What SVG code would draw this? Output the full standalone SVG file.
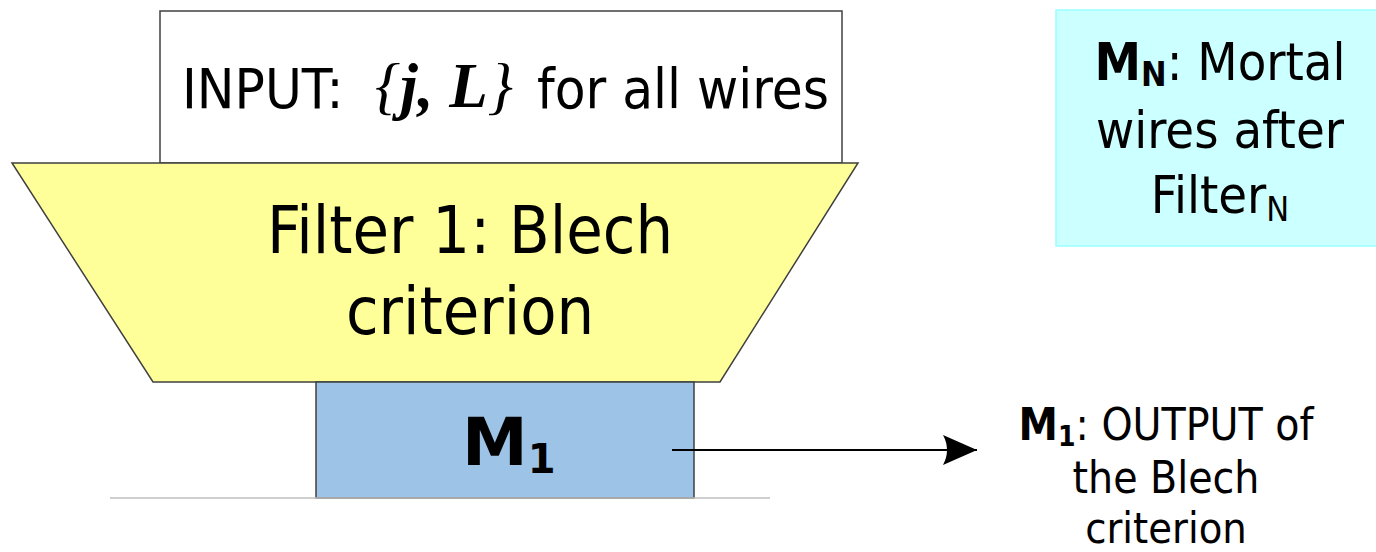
<svg xmlns="http://www.w3.org/2000/svg" width="1376" height="552" viewBox="0 0 1376 552">
  <defs>
    <marker id="arrowhead" markerWidth="36" markerHeight="32" refX="34" refY="16" orient="auto" markerUnits="userSpaceOnUse">
      <path d="M0,1 L34,16 L0,31 Q8,16 0,1 Z" fill="#000"/>
    </marker>
    <style>
      .sans { font-family: "DejaVu Sans Condensed", "DejaVu Sans", "Liberation Sans", sans-serif; font-stretch: condensed; fill: #000; }
      .serif { font-family: "Liberation Serif", "Times New Roman", serif; fill: #000; }
      .edge { stroke: #404040; stroke-width: 1.5; }
    </style>
  </defs>

  <rect width="1376" height="552" fill="#fff"/>

  <!-- input record box -->
  <g id="input">
    <rect x="160" y="11" width="682" height="152" fill="#fff" class="edge"/>
    <text x="182" y="108" class="sans" font-size="56">INPUT:</text>
    <text x="375" y="107" class="serif" font-size="63" font-style="italic">{<tspan font-weight="bold">j, L</tspan>}</text>
    <text x="537" y="108" class="sans" font-size="56">for all wires</text>
  </g>

  <!-- filter funnel -->
  <g id="filter1">
    <polygon points="12,163 858,163 720,382 153,382" fill="#ffff99" class="edge"/>
    <text x="470" y="253" class="sans" font-size="66" text-anchor="middle">Filter 1: Blech</text>
    <text x="470" y="334" class="sans" font-size="66" text-anchor="middle">criterion</text>
  </g>

  <!-- filter output -->
  <g id="m1">
    <rect x="316" y="382" width="378" height="116" fill="#9dc3e6" class="edge"/>
    <text x="462" y="465" class="sans" font-size="66" font-weight="bold" style="font-stretch: normal; font-family: 'DejaVu Sans', sans-serif">M<tspan font-size="40" dy="8">1</tspan></text>
  </g>

  <!-- ground line under the output -->
  <line x1="110" y1="498" x2="770" y2="498" stroke="#bfbfbf" stroke-width="1.5"/>

  <g id="connectors">
    <line x1="672" y1="450" x2="977" y2="450" stroke="#000" stroke-width="2" marker-end="url(#arrowhead)"/>
  </g>

  <!-- output label -->
  <g id="m1-label">
    <text x="1166" y="440" class="sans" font-size="44" text-anchor="middle"><tspan font-weight="bold">M<tspan font-size="28" dy="6">1</tspan></tspan><tspan dy="-6">: OUTPUT of</tspan></text>
    <text x="1166" y="493" class="sans" font-size="44" text-anchor="middle">the Blech</text>
    <text x="1166" y="543" class="sans" font-size="43" text-anchor="middle">criterion</text>
  </g>

  <!-- general legend -->
  <g id="mn-note">
    <rect x="1056" y="10" width="330" height="236" fill="#ccffff" stroke="#99ffff" stroke-width="1.5"/>
    <text x="1220" y="80" class="sans" font-size="52" text-anchor="middle"><tspan font-weight="bold">M<tspan font-size="34" dy="6">N</tspan></tspan><tspan dy="-6">: Mortal</tspan></text>
    <text x="1220" y="148" class="sans" font-size="52" text-anchor="middle">wires after</text>
    <text x="1220" y="213" class="sans" font-size="52" text-anchor="middle">Filter<tspan font-size="34" dy="8">N</tspan></text>
  </g>
</svg>
